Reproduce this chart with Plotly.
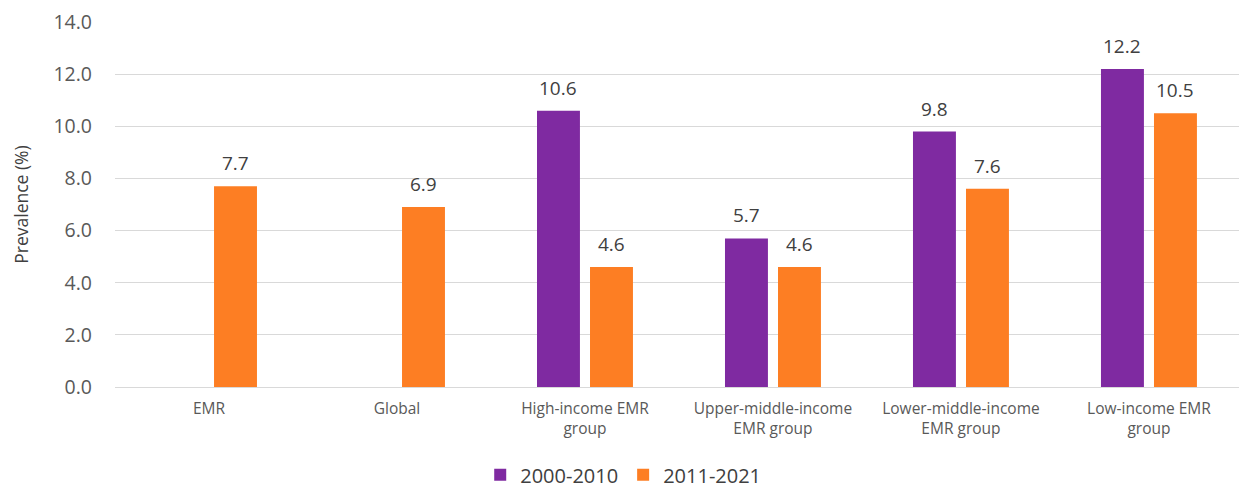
import plotly.graph_objects as go

# Prevalence by region / income group, two periods
categories = [
    "EMR",
    "Global",
    "High-income EMR<br>group",
    "Upper-middle-income<br>EMR group",
    "Lower-middle-income<br>EMR group",
    "Low-income EMR<br>group",
]
period_2000_2010 = [None, None, 10.6, 5.7, 9.8, 12.2]
period_2011_2021 = [7.7, 6.9, 4.6, 4.6, 7.6, 10.5]
y_ticks = [0, 2, 4, 6, 8, 10, 12, 14]

series = [
    ("2000-2010", period_2000_2010, "#7f2aa1"),
    ("2011-2021", period_2011_2021, "#fd7e23"),
]

fig = go.Figure()
for name, values, color in series:
    fig.add_trace(go.Bar(
        name=name,
        x=categories,
        y=values,
        marker=dict(color=color, line=dict(width=0)),
        hoverinfo="skip",
    ))

# Value labels above each bar
slot_shift = 26.5
for i, (name, values, color) in enumerate(series):
    shift = -slot_shift if i == 0 else slot_shift
    for cat, v in zip(categories, values):
        if v is None:
            continue
        fig.add_annotation(
            x=cat, y=v, text=f"{v:.1f}", showarrow=False,
            xshift=shift, yshift=23, yanchor="middle",
            font=dict(family="Open Sans", size=19, color="#404040"),
        )

fig.update_layout(
    width=1239, height=489,
    margin=dict(l=115, r=0, t=22, b=102),
    paper_bgcolor="white", plot_bgcolor="white",
    barmode="group", bargap=0.436, bargroupgap=0.19,
    font=dict(family="Open Sans", color="#595959"),
    showlegend=True,
    legend=dict(
        orientation="h", xref="container", yref="container",
        x=0.503, xanchor="center", y=0.029, yanchor="middle",
        font=dict(family="Open Sans", size=20, color="#404040"),
        traceorder="normal",
    ),
    xaxis=dict(
        range=[-0.5, 5.479], showgrid=False, showline=False, ticks="",
        ticklabelstandoff=10,
        tickfont=dict(family="Open Sans", size=15.5, color="#595959"),
    ),
    yaxis=dict(
        range=[0, 14], tickvals=y_ticks, tickformat=".1f",
        showgrid=True, gridcolor="#d9d9d9", gridwidth=1,
        zeroline=True, zerolinecolor="#d9d9d9", zerolinewidth=1,
        showline=False, ticks="", ticklabelstandoff=22,
        tickfont=dict(family="Open Sans", size=19.5, color="#595959"),
        title=dict(text="Prevalence (%)", standoff=20,
                   font=dict(family="Open Sans", size=17.5, color="#404040")),
    ),
)

fig.write_html("out.html")
